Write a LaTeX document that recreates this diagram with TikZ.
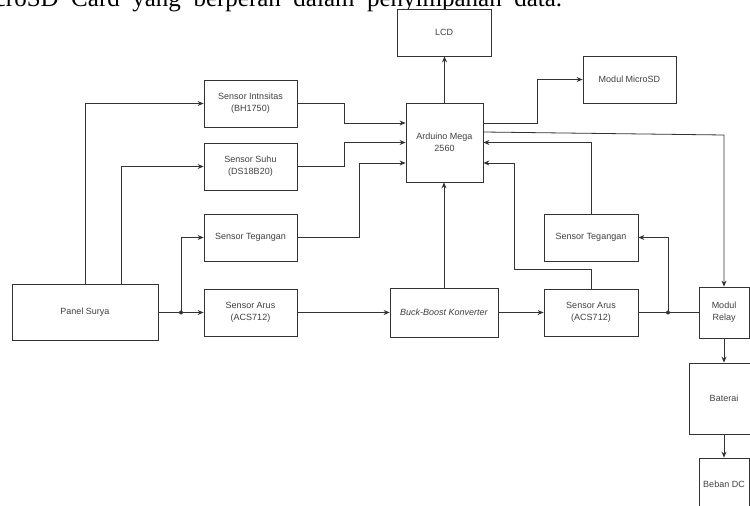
\documentclass[tikz,border=0pt]{standalone}
\usepackage{fontspec}
\setmainfont{Liberation Serif}
\newfontfamily\blokfont{Liberation Sans}
\usetikzlibrary{arrows.meta}

\begin{document}
\begin{tikzpicture}[x=1pt,y=-1pt,>={Stealth[length=6pt,width=5pt]},
  blok/.style={draw=black!80,line width=.8pt,fill=white,align=center,inner sep=1pt,
    font=\blokfont\fontsize{9}{12}\selectfont,text=black!75},
  sz/.style 2 args={minimum width=#1pt,minimum height=#2pt},
  line/.style={draw=black!80,line width=.8pt}]
\useasboundingbox (0,0) rectangle (750,506);
\clip (0,0) rectangle (750,506);
\node[anchor=base west,inner sep=0pt,font=\fontsize{25}{29}\selectfont] (teks) at (-34.5,6)
  {\makebox[596.5pt][s]{MicroSD Card yang berperan dalam penyimpanan data.}};
% blok
\node[blok,sz={94}{47}] (lcd) at (444,32.5) {LCD};
\node[blok,sz={93}{47}] (microsd) at (629.5,79.5) {Modul MicroSD};
\node[blok,sz={77}{79}] (arduino) at (444.5,142.5) {Arduino Mega\\2560};
\node[blok,sz={93}{47}] (intensitas) at (250.5,103.5) {Sensor Intnsitas\\(BH1750)};
\node[blok,sz={93}{47}] (suhu) at (250.5,166.5) {Sensor Suhu\\(DS18B20)};
\node[blok,sz={93}{47}] (tegangan1) at (250.5,237.5) {Sensor Tegangan};
\node[blok,sz={146}{56}] (panel) at (85,312.5) {Panel Surya};
\node[blok,sz={93}{47}] (arus1) at (250.5,312.5) {Sensor Arus\\(ACS712)};
\node[blok,sz={108}{49}] (buck) at (444,312.5) {\textit{Buck-Boost Konverter}};
\node[blok,sz={94}{47}] (arus2) at (591,312.5) {Sensor Arus\\(ACS712)};
\node[blok,sz={94}{47}] (tegangan2) at (591,237.5) {Sensor Tegangan};
\node[blok,sz={50}{51}] (relay) at (724,312.5) {Modul\\Relay};
\node[blok,sz={70}{71}] (baterai) at (724,398.5) {Baterai};
\node[blok,sz={50}{52}] (beban) at (724,484) {Beban DC};
\coordinate (j1) at (181,312.5); \coordinate (j2) at (668,312.5);
\coordinate (k) at (514,269); \coordinate (r1) at (724,135);
% sisi panel
\draw[line,->] (panel.north) |- (intensitas.west);
\draw[line,->] ([xshift=36pt]panel.north) |- (suhu.west);
\draw[line] (panel.east) -- (j1);
\draw[line,->] (j1) -- (arus1.west);
\draw[line,->] (j1) |- (tegangan1.west);
\draw[line,->] (intensitas.east) -- ++(47,0) |- ([yshift=19.5pt]arduino.west);
\draw[line,->] (suhu.east) -- ++(47,0) |- (arduino.west);
\draw[line,->] (tegangan1.east) -- ++(62,0) |- ([yshift=-20.5pt]arduino.west);
\draw[line,->] (arus1.east) -- (buck.west);
% arduino
\draw[line,->] (arduino.north) -- (arduino.north |- lcd.south);
\draw[line,->] ([yshift=19.5pt]arduino.east) -- ++(54,0) |- (microsd.west);
\draw[line,->] ([yshift=10.5pt]arduino.east) -- (r1) -- (relay.north);
\draw[line,->] (buck.north) -- (buck.north |- arduino.south);
% sisi beban
\draw[line,->] (buck.east) -- (arus2.west);
\draw[line,->] (arus2.north) |- (k) |- ([yshift=-20.5pt]arduino.east);
\draw[line,->] (tegangan2.north) |- (arduino.east);
\draw[line] (arus2.east) -- (relay.west);
\draw[line,->] (j2) |- (tegangan2.east);
\draw[line,->] (relay.south) -- (baterai.north);
\draw[line,->] (baterai.south) -- (beban.north);
\fill[black!80] (j1) circle (2) (j2) circle (2);
\end{tikzpicture}
\end{document}
